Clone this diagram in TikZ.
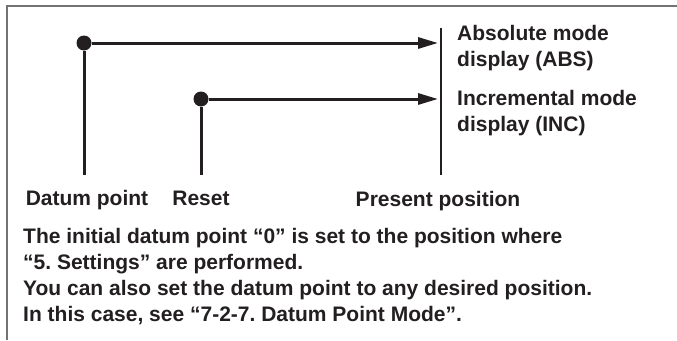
\documentclass[tikz,border=0pt]{standalone}
\usepackage{fontspec}
\setmainfont{Liberation Sans}
\usepackage{xcolor}
\usepackage{tikz}
\usetikzlibrary{arrows.meta, positioning}
\frenchspacing
\definecolor{inkdark}{RGB}{35, 31, 32}
\definecolor{framegray}{RGB}{115, 115, 115}
\tikzset{
  font=\bfseries\fontsize{21}{26}\selectfont,
  pointdot/.style={circle, fill=inkdark, inner sep=0pt, minimum size=15pt},
  modelabel/.style={anchor=base west, align=left, inner sep=0pt, text=inkdark},
  footlabel/.style={anchor=base, inner sep=0pt, text=inkdark},
  flowline/.style={draw=inkdark, -{Triangle[length=20pt, width=11pt]}, line width=3pt},
  stemline/.style={draw=inkdark, line width=3pt},
  presentline/.style={draw=inkdark, line width=1.6pt},
  frameline/.style={draw=framegray, line width=2pt}
}

\begin{document}
\begin{tikzpicture}[x=1pt, y=-1pt]
  \useasboundingbox (0,0) rectangle (677,340);

  % Frame
  \draw[frameline] (7,340) |- (677,6);

  % Datum point and reset
  \node[pointdot] (datum) at (84,43) {};
  \node[pointdot] (reset) at (201,99) {};
  \coordinate (datumfoot) at (84,175);
  \coordinate (resetfoot) at (201,175);

  % Present position
  \coordinate (presenttop) at (441,28);
  \coordinate (presentfoot) at (441,175);
  \coordinate (abstip) at (438,43);
  \coordinate (inctip) at (438,99);

  % Display modes (base = last line)
  \node[modelabel] (abs) at (457,66) {Absolute mode\\display (ABS)};
  \node[modelabel] (inc) at (457,131) {Incremental mode\\display (INC)};

  % Labels
  \node[footlabel] (datumlabel) at (87,205) {Datum point};
  \node[footlabel] (resetlabel) at (201,205) {Reset};
  \node[footlabel] (presentlabel) at (438,206) {Present position};

  % Note
  \node[modelabel] (note) at (23,321) {The initial datum point “0” is set to the position where\\
    “5. Settings” are performed.\\
    You can also set the datum point to any desired position.\\
    In this case, see “7-2-7. Datum Point Mode”.};

  \draw[stemline] (datum) -- (datumfoot);
  \draw[stemline] (reset) -- (resetfoot);
  \draw[presentline] (presenttop) -- (presentfoot);
  \draw[flowline] (datum) -- (abstip);
  \draw[flowline] (reset) -- (inctip);

\end{tikzpicture}
\end{document}
